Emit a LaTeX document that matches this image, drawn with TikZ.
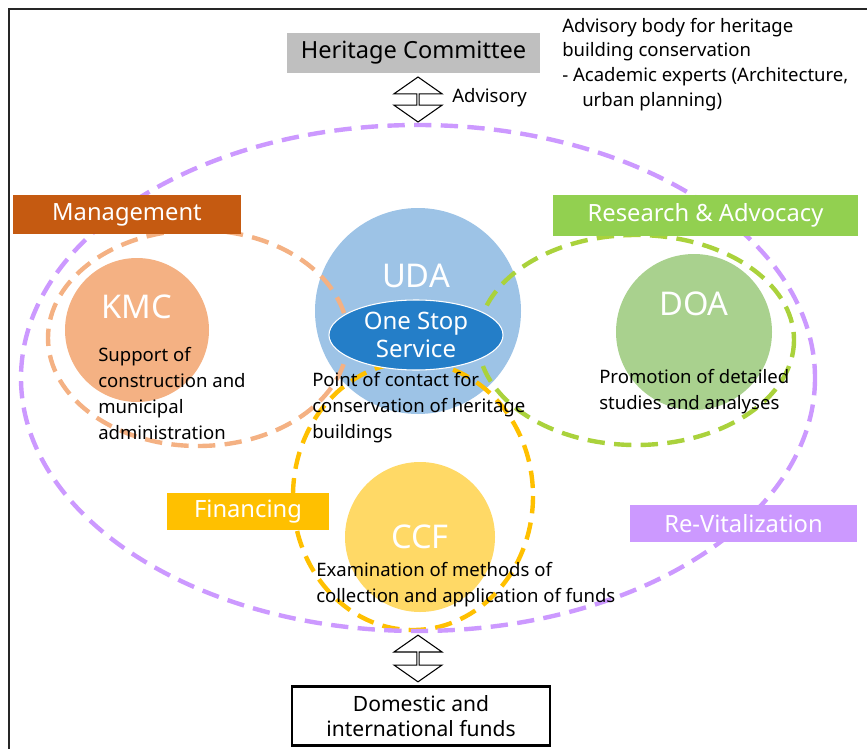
\documentclass[tikz,border=0pt]{standalone}
\usepackage{fontspec}
\setmainfont{Noto Sans}
\usetikzlibrary{shapes.geometric,shapes.arrows,backgrounds}
\definecolor{hcGray}{RGB}{191,191,191}
\definecolor{mgtO}{RGB}{197,90,17}
\definecolor{resG}{RGB}{146,208,80}
\definecolor{finY}{RGB}{255,192,0}
\definecolor{revP}{RGB}{204,153,255}
\definecolor{kmcF}{RGB}{244,177,131}
\definecolor{udaF}{RGB}{157,195,230}
\definecolor{ossF}{RGB}{36,126,200}
\definecolor{doaF}{RGB}{169,209,142}
\definecolor{ccfF}{RGB}{255,217,102}
\definecolor{limeD}{RGB}{170,210,60}

\begin{document}
\begin{tikzpicture}[x=0.75pt,y=-0.75pt,
  org/.style={circle,inner sep=0pt},
  orgtxt/.style={text=white,inner sep=0pt,font=\fontsize{24.5}{24.5}\selectfont},
  tag/.style={inner sep=0pt,text=white,font=\fontsize{17.8}{17.8}\selectfont},
  note/.style={anchor=north west,align=left,inner sep=0pt,font=\fontsize{13.9}{19.5}\selectfont},
  dbl/.style={double,double distance=2.4pt,line width=0.6pt},
  ring/.style={line width=3.3pt,dash pattern=on 13pt off 7pt},
  darr/.style={double arrow,shape border rotate=90,draw,fill=white,line width=0.8pt,inner sep=0pt,minimum width=36pt,double arrow head extend=8pt,double arrow tip angle=110}]
\useasboundingbox (0,0) rectangle (867,749);
\draw[line width=1.5pt,black!85] (9,749) -- (9,9) -- (867,9);

% organisations
\node[org,fill=kmcF,minimum size=108pt] (kmc) at (137,330) {};
\node[org,fill=udaF,minimum size=154.5pt] (uda) at (418,311) {};
\node[org,fill=doaF,minimum size=117pt] (doa) at (694,332) {};
\node[org,fill=ccfF,minimum size=112.5pt] (ccf) at (420,537) {};
\begin{scope}[on background layer]
\draw[dbl] (kmc) -- (kmc -| doa);
\draw[dbl] (uda) -- (uda |- ccf);
\end{scope}

% dashed groups
\draw[ring,kmcF] (198,338) ellipse [x radius=150,y radius=108];
\draw[ring,limeD] (636,340) ellipse [x radius=158,y radius=105];
\draw[ring,finY] (413,496) ellipse [x radius=120,y radius=134];
\draw[ring,revP] (418,378) ellipse [x radius=397,y radius=253];

\node[ellipse,fill=ossF,draw=white,line width=0.8pt,minimum width=130.5pt,minimum height=52.5pt,inner sep=0pt,text=white,align=center,font=\fontsize{18}{21}\selectfont] (oss) at (416,335) {One Stop\\Service};

\node[orgtxt] (kmct) at (137,307) {KMC};
\node[orgtxt] (udat) at (416,276) {UDA};
\node[orgtxt] (doat) at (694,304) {DOA};
\node[orgtxt] (ccft) at (420,537) {CCF};

% tags
\node[tag,fill=mgtO,minimum width=171pt,minimum height=29.25pt] (mgt) at (127,214.5) {Management};
\node[tag,fill=resG,minimum width=228.75pt,minimum height=30.75pt] (res) at (705.5,215.5) {Research \& Advocacy};
\node[tag,fill=finY,minimum width=121.5pt,minimum height=27.75pt] (fin) at (248,511.5) {Financing};
\node[tag,fill=revP,minimum width=170.25pt,minimum height=27.75pt] (rev) at (743.5,523.5) {Re-Vitalization};

% notes
\node[note] (kmcn) at (98,347) {Support of\\construction and\\municipal\\administration};
\node[note] (udan) at (312,372) {Point of contact for\\conservation of heritage\\buildings};
\node[note] (doan) at (599,369) {Promotion of detailed\\studies and analyses};
\node[note] (ccfn) at (316,562) {Examination of methods of\\collection and application of funds};
\node[note,font=\fontsize{13.9}{18.4}\selectfont] (hcn) at (562,18) {Advisory body for heritage\\building conservation\\- Academic experts (Architecture,\\\hspace*{15pt}urban planning)};

% committee and funds
\node[fill=hcGray,minimum width=189.75pt,minimum height=30pt,inner sep=0pt,font=\fontsize{17.7}{17.7}\selectfont] (hc) at (413.5,53) {Heritage Committee};
\node[darr,minimum height=33.75pt] (adv) at (418,99.5) {};
\node[note,anchor=west] (advt) at (452,98) {Advisory};
\node[draw,line width=2.2pt,minimum width=193.5pt,minimum height=44pt,inner sep=0pt,align=center,font=\fontsize{15.8}{19}\selectfont] (fund) at (421,716) {Domestic and\\international funds};
\node[darr,minimum height=35pt] (fnd) at (418,658.5) {};
\end{tikzpicture}
\end{document}
